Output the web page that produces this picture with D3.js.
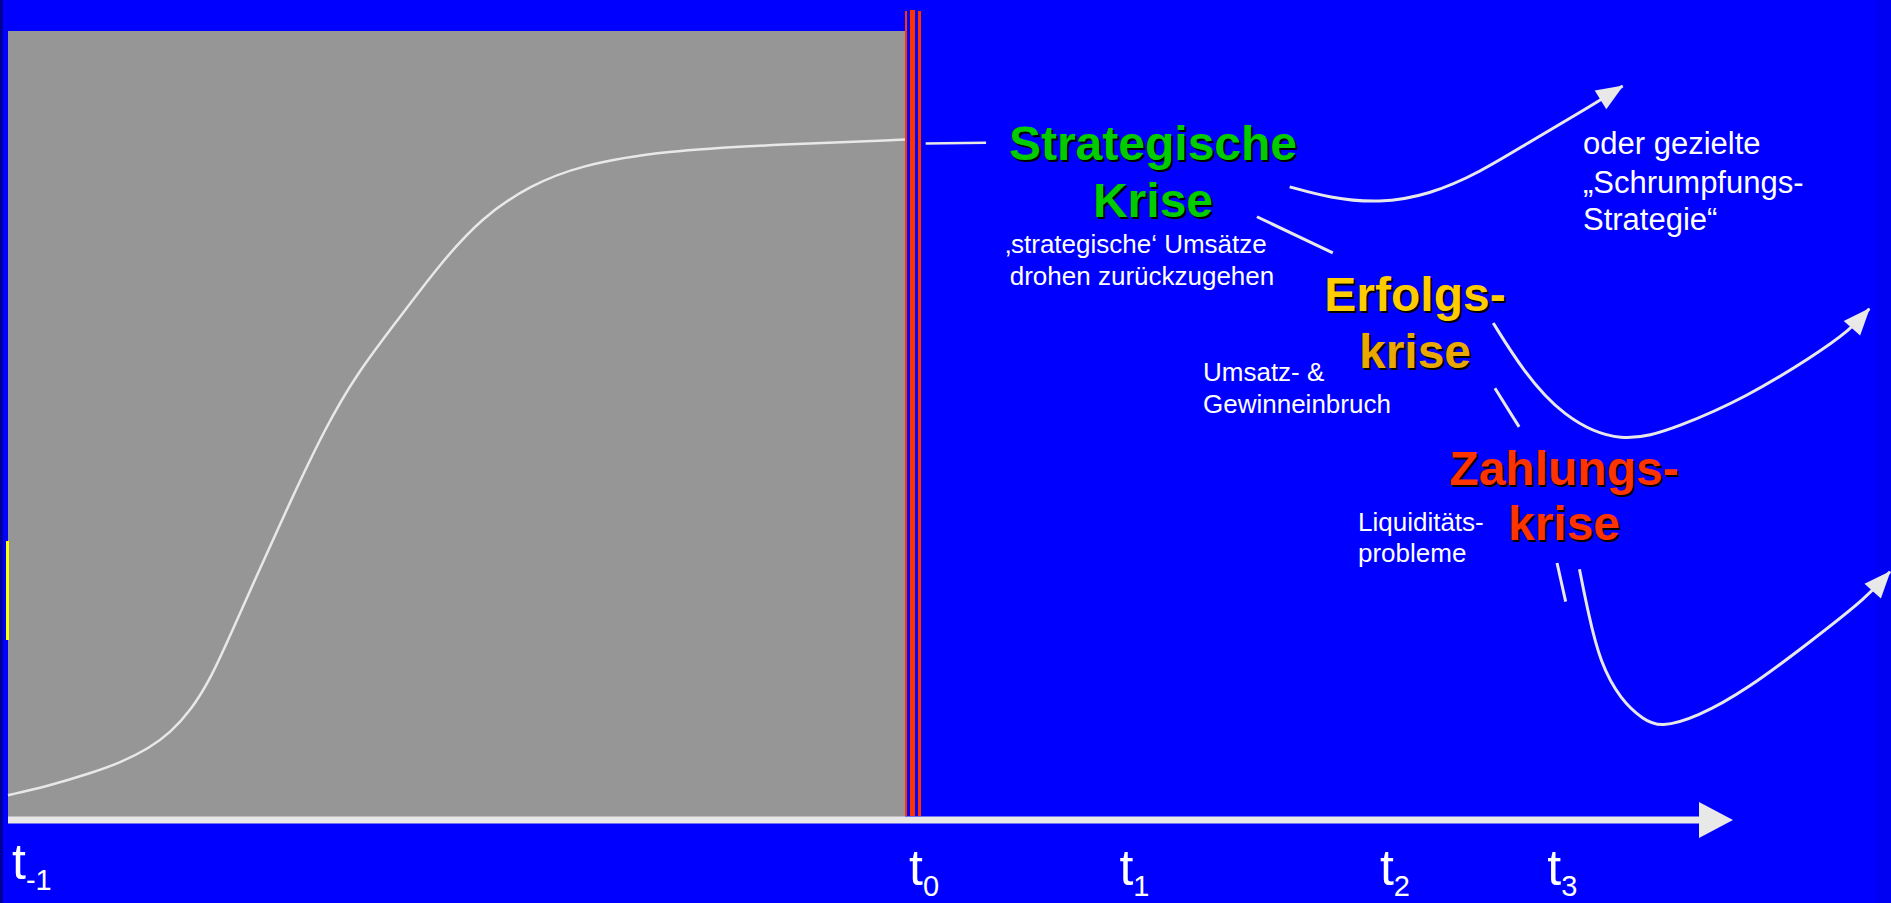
<!DOCTYPE html>
<html>
<head>
<meta charset="utf-8">
<script src="https://cdn.jsdelivr.net/npm/d3@7"></script>
<style>
  html, body { margin: 0; padding: 0; background: #0000ff; overflow: hidden; }
  svg { display: block; }
  text { font-family: "Liberation Sans", Arial, Helvetica, sans-serif; }
</style>
</head>
<body>
<svg id="chart" width="1891" height="903"></svg>
<script>
// ---- Daten (Einheiten 0..1000 auf beiden Achsen) ----
// Lebenszyklus bis t0
const growthX = [0, 24, 48, 65, 82, 94, 106, 117, 129, 143, 164, 184, 202, 226, 250, 275, 303, 331, 380, 450, 520];
const growthY = [29, 41, 57, 70, 89, 108, 137, 175, 233, 302, 404, 496, 564, 633, 703, 764, 804, 829, 848, 856, 862];
// Fortsetzung nach t0
const continueX = [532, 567];
const continueY = [857, 858];
// Pfad nach der strategischen Krise (Schrumpfungs-Strategie)
const shrinkX = [743, 766, 795, 824, 853, 882, 911, 936];
const shrinkY = [802, 788, 781, 792, 820, 859, 896, 930];
// Pfad nach der Erfolgskrise
const successX = [861, 878, 901, 935, 969, 1008, 1046, 1068, 1079];
const successY = [629, 569, 510, 474, 497, 535, 586, 620, 647];
// Pfad nach der Zahlungskrise
const paymentX = [911, 916, 923, 935, 948, 958, 979, 1008, 1046, 1078, 1091];
const paymentY = [316, 261, 197, 150, 125, 115, 128, 163, 226, 281, 313];
// Kurze Übergangsstriche zwischen den Krisen
const linkStratX = [724, 768];
const linkStratY = [764, 718];
const linkSuccX = [862, 876];
const linkSuccY = [546, 497];
const linkPayX = [898, 903];
const linkPayY = [324, 275];

// Zeitpunkte auf der Achse
const tickSubs = ["-1", "0", "1", "2", "3"];
const tickPos = [0, 520, 642, 793, 890];

// Krisenbezeichnungen
const crisisLines = [["Strategische", "Krise"], ["Erfolgs-", "krise"], ["Zahlungs-", "krise"]];
const crisisColors = [["#00cc00", "#00cc00"], ["#ffcc00", "#e9a800"], ["#ff3300", "#ff3300"]];
const noteStrat = ["\u201Astrategische\u2018 Ums\u00e4tze", "drohen zur\u00fcckzugehen"];
const noteSucc = ["Umsatz- &", "Gewinneinbruch"];
const notePay = ["Liquidit\u00e4ts-", "probleme"];
const noteShrink = ["oder gezielte", "\u201ESchrumpfungs-", "Strategie\u201C"];

// ---- Skalen ----
const x = d3.scaleLinear().domain([0, 1000]).range([8, 1733]);
const y = d3.scaleLinear().domain([0, 1000]).range([818, 31]);

const svg = d3.select("#chart");
const W = 1891, H = 903;
const lineColor = "#e8e8e8";

// Hintergrund
svg.append("rect").attr("width", W).attr("height", H).attr("fill", "#0000ff");
svg.append("rect").attr("x", 0).attr("y", 0).attr("width", 3).attr("height", H).attr("fill", "#000099");
svg.append("rect").attr("x", 1877).attr("y", 0).attr("width", W - 1877).attr("height", H).attr("fill", "#0000f2");

// Vergangenheitsbereich t-1 .. t0
svg.append("rect")
  .attr("x", x(0)).attr("y", y(1000))
  .attr("width", x(520) - x(0)).attr("height", y(0) - y(1000))
  .attr("fill", "#969696");

// Gelbe Markierung am linken Rand
svg.append("rect").attr("x", 6).attr("y", 541).attr("width", 3).attr("height", 99).attr("fill", "#ffff00");

// Rote Grenzlinien bei t0
const x0 = x(520);
[[0, 2, 11], [5, 5, 10], [13, 3, 11]].forEach(([dx, w, top]) => {
  svg.append("rect").attr("x", x0 + dx).attr("y", top)
    .attr("width", w).attr("height", y(0) - top - 2).attr("fill", "#ff3300");
});

// Pfeilspitze
const defs = svg.append("defs");
defs.append("marker")
  .attr("id", "head")
  .attr("viewBox", "-28 -12 30 24")
  .attr("refX", 0).attr("refY", 0)
  .attr("markerWidth", 30).attr("markerHeight", 24)
  .attr("markerUnits", "userSpaceOnUse")
  .attr("orient", "auto")
  .append("path").attr("d", "M1,0 L-26,-11 L-26,11 Z").attr("fill", lineColor);

const zip = (xs, ys) => xs.map((v, i) => [v, ys[i]]);
const curve = d3.line().x(d => x(d[0])).y(d => y(d[1])).curve(d3.curveBasis);

function drawPath(xs, ys, width, arrow) {
  const p = svg.append("path")
    .attr("d", curve(zip(xs, ys)))
    .attr("fill", "none")
    .attr("stroke", lineColor)
    .attr("stroke-width", width);
  if (arrow) p.attr("marker-end", "url(#head)");
  return p;
}

drawPath(growthX, growthY, 2.5, false);
drawPath(continueX, continueY, 2.5, false);
drawPath(shrinkX, shrinkY, 3, true);
drawPath(successX, successY, 3, true);
drawPath(paymentX, paymentY, 3, true);
drawPath(linkStratX, linkStratY, 3, false);
drawPath(linkSuccX, linkSuccY, 3, false);
drawPath(linkPayX, linkPayY, 3, false);

// Zeitachse mit Pfeil
const axisY = y(0) + 2;
svg.append("line")
  .attr("x1", x(0)).attr("x2", x(1000) - 30)
  .attr("y1", axisY).attr("y2", axisY)
  .attr("stroke", lineColor).attr("stroke-width", 7);
svg.append("path")
  .attr("d", `M${x(1000)},${axisY} L${x(1000) - 34},${axisY - 18} L${x(1000) - 34},${axisY + 18} Z`)
  .attr("fill", lineColor);

// Beschriftung der Zeitpunkte
tickSubs.forEach((s, i) => {
  const base = i === 0 ? 879 : 885;
  const t = svg.append("text")
    .attr("x", x(tickPos[i]) + 4).attr("y", base)
    .attr("fill", "#ffffff").attr("font-size", 50);
  t.append("tspan").text("t");
  t.append("tspan").attr("dy", 11).attr("font-size", 29).text(s);
});

// Krisentitel mit Schatten
function title(str, cx, base, color) {
  svg.append("text").attr("x", cx + 2).attr("y", base + 2)
    .attr("text-anchor", "middle").attr("font-size", 48).attr("font-weight", "bold")
    .attr("fill", "#000000").text(str);
  svg.append("text").attr("x", cx).attr("y", base)
    .attr("text-anchor", "middle").attr("font-size", 48).attr("font-weight", "bold")
    .attr("fill", color).text(str);
}
const titlePos = [[1153, 160, 217], [1415, 311, 368], [1564, 485, 540]];
crisisLines.forEach((lines, i) => {
  const [cx, b1, b2] = titlePos[i];
  title(lines[0], cx, b1, crisisColors[i][0]);
  title(lines[1], cx, b2, crisisColors[i][1]);
});

// Erläuterungen
function note(lines, xPos, bases, size, anchor) {
  lines.forEach((l, i) => {
    svg.append("text").attr("x", Array.isArray(xPos) ? xPos[i] : xPos).attr("y", bases[i])
      .attr("text-anchor", anchor).attr("font-size", size)
      .attr("fill", "#ffffff").text(l);
  });
}
note(noteStrat, [1136, 1142], [253, 285], 26, "middle");
note(noteSucc, 1203, [381, 413], 26, "start");
note(notePay, 1358, [531, 562], 26, "start");
note(noteShrink, 1583, [154, 193, 230], 31, "start");
</script>
</body>
</html>
